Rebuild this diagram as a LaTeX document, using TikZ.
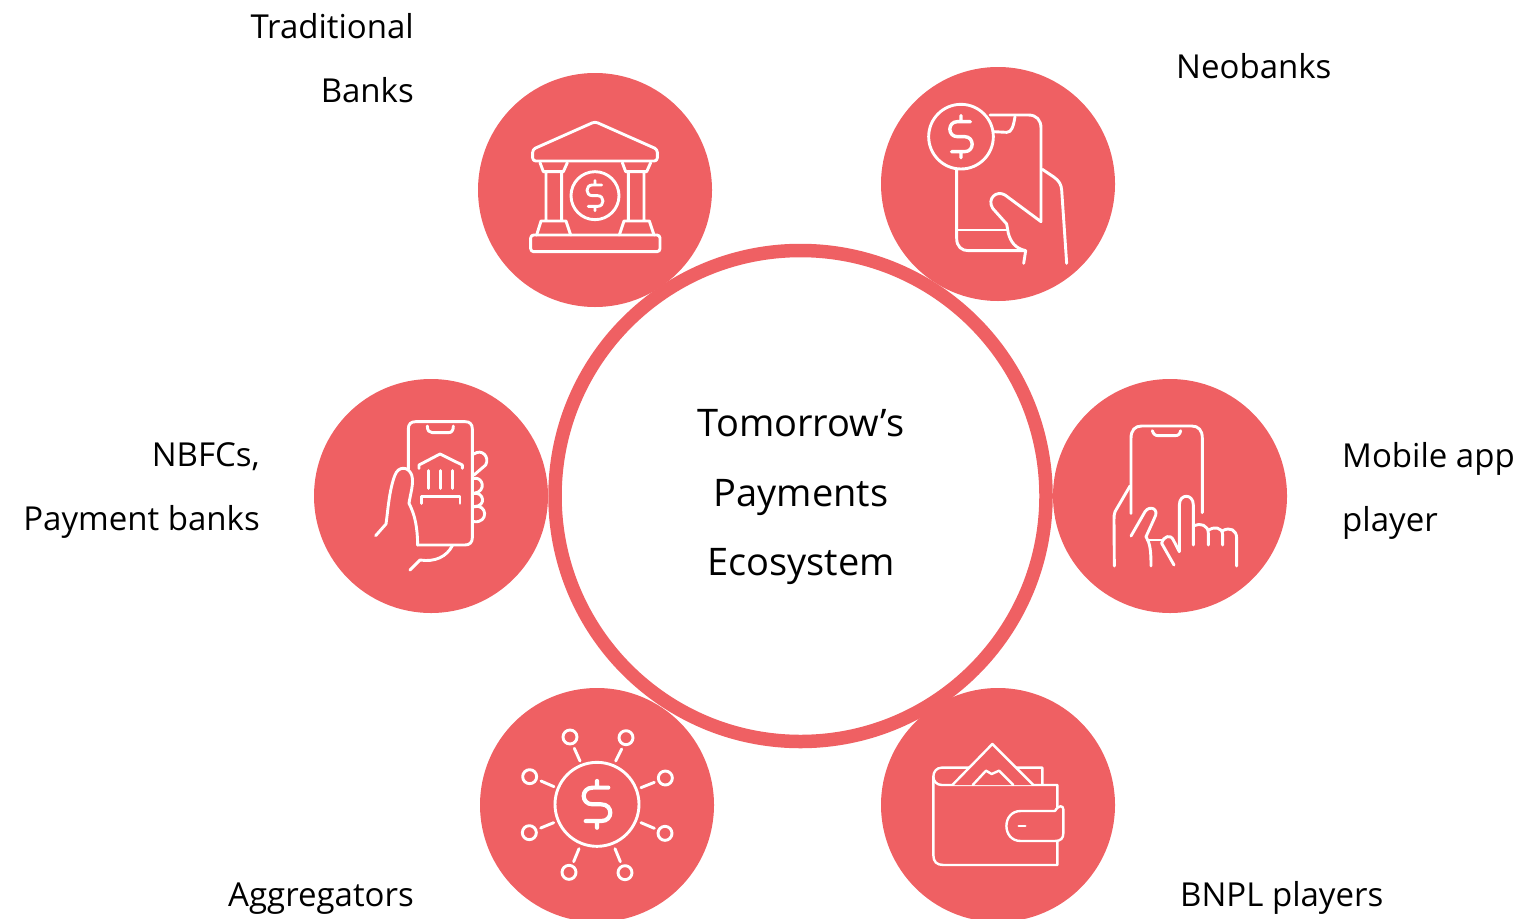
\documentclass[tikz,border=0pt]{standalone}
\usepackage{fontspec}
\setmainfont{Open Sans}
\definecolor{coral}{HTML}{EF6063}
\tikzset{
  disc/.style={circle,fill=coral,minimum size=234pt,inner sep=0pt,draw=none},
  ringnode/.style={circle,fill=white,draw=coral,line width=13.5pt,minimum size=491pt,inner sep=0pt},
  icon/.style={draw=white,line width=2.9pt,line cap=round,line join=round},
  thinicon/.style={icon,line width=2.4pt},
  zoomed/.style={x=0.33333pt,y=-0.33333pt},
  lab/.style={font=\fontsize{33}{64}\selectfont,inner sep=0pt,text=black},
  centerlab/.style={font=\fontsize{38}{69.5}\selectfont,inner sep=0pt,align=center,text=black}
}
\newcommand{\dollarat}[5][2.9pt]{%
  \draw[icon,line width=#1,shift={(#2,#3)},x=#4pt,y=-#5pt]
    (0.9,-1) -- (-0.35,-1) .. controls (-1.3,-1) and (-1.3,0) .. (-0.35,0)
    -- (0.35,0) .. controls (1.3,0) and (1.3,1) .. (0.35,1) -- (-0.9,1)
    (0,-1) -- (0,-1.4) (0,1) -- (0,1.4);}
\begin{document}
\begin{tikzpicture}[x=1pt,y=-1pt]
\useasboundingbox (0,0) rectangle (1522,918);
\node[disc] (bank) at (595,190) {};
\node[disc] (neo) at (998,184) {};
\node[disc] (nbfc) at (431,496) {};
\node[disc] (mobile) at (1170,496) {};
\node[disc] (agg) at (597,805) {};
\node[disc] (bnpl) at (998,805) {};
\node[ringnode,align=center] (eco) at (800.5,496) {};
\node[centerlab] (ecotext) at (801,497) {Tomorrow’s\\Payments\\Ecosystem};

% bank icon
\begin{scope}[shift={(480,70)},zoomed]
\draw[icon,rounded corners=3pt] (345,155) -- (532,238) -- (532,273) -- (158,273) -- (158,238) -- cycle;
\draw[icon] (180,278)--(190,305)--(250,305)--(262,278)
  (427,278)--(437,305)--(500,305)--(512,278)
  (198,305)--(198,450) (245,305)--(245,450)
  (445,305)--(445,450) (492,305)--(492,450)
  (170,495)--(183,453)--(258,453)--(272,495)
  (418,495)--(432,453)--(508,453)--(522,495);
\draw[icon,rounded corners=3pt] (152,495) rectangle (540,545);
\draw[icon] (345,377) circle[radius=72];
\dollarat{345}{377}{7.5}{10.7}
\end{scope}

% neobank icon
\begin{scope}[shift={(880,70)},zoomed]
\draw[icon] (243,200) circle[radius=97];
\dollarat[3.4pt]{243}{200}{10.5}{15}
\draw[icon] (330,135) -- (445,135) .. controls (470,135) and (483,150) .. (483,175) -- (483,455)
  -- (375,375) .. controls (350,360) and (320,385) .. (338,415) -- (380,462) -- (385,490)
  .. controls (392,515) and (405,535) .. (437,542) -- (431,580);
\draw[icon] (230,298) -- (230,505) .. controls (230,530) and (245,542) .. (265,542) -- (437,542);
\draw[icon] (230,480) -- (380,480);
\draw[icon] (340,185) -- (380,187) .. controls (395,187) and (400,170) .. (405,140);
\draw[icon] (487,298) -- (520,320) .. controls (538,332) and (544,345) .. (545,360) -- (560,580);
\end{scope}

% nbfc icon
\begin{scope}[shift={(315,380)},zoomed]
\draw[icon] (280,268) -- (280,147) .. controls (280,132) and (288,125) .. (302,125) -- (450,125)
  .. controls (464,125) and (472,132) .. (472,147) -- (472,473) .. controls (472,487) and (464,495) .. (450,495) -- (308,495);
\draw[icon] (182,467) -- (213,432) .. controls (218,400) and (222,330) .. (240,285)
  .. controls (250,258) and (280,258) .. (290,285) .. controls (298,310) and (285,345) .. (282,370)
  .. controls (300,405) and (307,440) .. (308,495);
\draw[icon] (337,138) .. controls (337,152) and (343,158) .. (352,158) -- (400,158) .. controls (410,158) and (415,152) .. (415,138);
\draw[icon] (312,265) -- (312,255) -- (375,222) -- (442,255) -- (442,265);
\draw[icon] (340,272) -- (340,325) (377,272) -- (377,325) (412,272) -- (412,325);
\draw[icon] (320,370) -- (320,350) -- (435,350) -- (435,370);
\draw[icon] (477,222) .. controls (500,205) and (525,230) .. (512,255) -- (477,285);
\draw[icon] (477,295) .. controls (505,290) and (515,335) .. (477,340);
\draw[icon] (477,340) .. controls (505,335) and (517,378) .. (477,380);
\draw[icon] (477,380) .. controls (517,370) and (522,430) .. (477,425);
\draw[icon] (412,497) .. controls (395,530) and (360,547) .. (315,540) -- (285,570);
\end{scope}

% mobile icon
\begin{scope}[shift={(1050,380)},zoomed]
\draw[icon] (243,400) -- (243,175) .. controls (243,150) and (255,138) .. (275,138) -- (425,138)
  .. controls (445,138) and (457,150) .. (457,175) -- (457,398);
\draw[icon] (307,152) .. controls (310,162) and (315,167) .. (325,167) -- (375,167) .. controls (385,167) and (390,162) .. (392,152);
\draw[icon] (240,318) -- (195,395) .. controls (192,403) and (192,410) .. (192,420) -- (193,558);
\draw[icon] (388,515) -- (388,375) .. controls (388,340) and (430,340) .. (430,375) -- (430,495);
\draw[icon] (432,437) .. controls (450,428) and (475,435) .. (475,460) -- (475,495);
\draw[icon] (475,450) .. controls (490,440) and (518,440) .. (518,465) -- (518,495);
\draw[icon] (518,452) .. controls (540,440) and (560,450) .. (560,475) -- (560,558);
\draw[icon] (243,468) -- (285,395) .. controls (298,375) and (330,385) .. (313,415) -- (288,470)
  .. controls (300,490) and (303,510) .. (303,558);
\draw[icon] (292,480) -- (340,480);
\draw[icon] (335,490) -- (372,555);
\draw[icon] (335,490) .. controls (340,468) and (362,462) .. (370,480) -- (388,515);
\end{scope}

% aggregators icon
\begin{scope}[shift={(480,680)},zoomed]
\draw[icon] (351,373) circle[radius=126];
\dollarat[4.2pt]{351}{373}{12.5}{16.7}
\foreach \p in {(270,171),(438,173),(556,294),(555,460),(435,578),(267,577),(148,458),(149,290)}
  \draw[icon] \p circle[radius=21];
\draw[icon] (300,243)--(283,205) (407,243)--(425,207) (483,323)--(523,307) (483,428)--(523,445)
  (405,506)--(421,545) (297,506)--(281,545) (221,428)--(182,444) (222,320)--(183,303);
\end{scope}

% wallet icon
\begin{scope}[shift={(880,680)},zoomed]
\draw[thinicon] (532,380) -- (532,315) -- (215,315) -- (185,315) .. controls (170,315) and (160,303) .. (160,290)
  .. controls (160,275) and (170,263) .. (185,263) -- (487,263) -- (487,315);
\draw[thinicon] (160,290) -- (160,525) .. controls (160,545) and (170,555) .. (190,555) -- (532,555) -- (532,485);
\draw[thinicon] (525,393) -- (422,393) .. controls (365,393) and (365,483) .. (422,483) -- (525,483)
  .. controls (542,483) and (550,475) .. (550,460) -- (550,388) .. controls (550,375) and (535,375) .. (525,393);
\draw[thinicon] (416,438) -- (436,438);
\draw[thinicon,fill=coral] (217,315) -- (337,192) -- (460,315);
\draw[thinicon] (278,315) -- (318,272) -- (335,282) -- (357,272) -- (400,315);
\end{scope}

% labels
\node[lab,align=right,anchor=east] (tradl) at (414,58) {Traditional\\Banks};
\node[lab,anchor=base west] (neol) at (1176,78) {Neobanks};
\node[lab,align=right,anchor=east] (nbfcl) at (260,491) {NBFCs,\\Payment banks};
\node[lab,align=left,anchor=west] (mobl) at (1342,491) {Mobile app\\player};
\node[lab,anchor=base east] (aggl) at (414,906) {Aggregators};
\node[lab,anchor=base west] (bnpll) at (1180,906) {BNPL players};
\end{tikzpicture}
\end{document}
